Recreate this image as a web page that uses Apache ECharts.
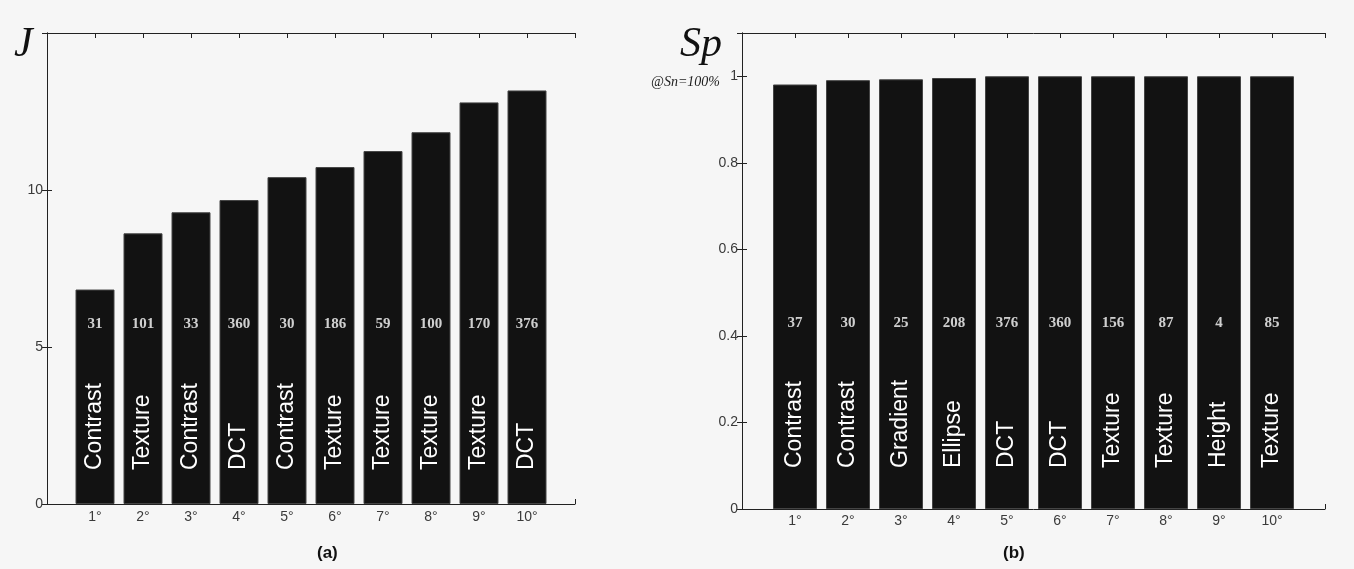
<!DOCTYPE html>
<html>
<head>
<meta charset="utf-8">
<script src="https://cdn.jsdelivr.net/npm/echarts@6/dist/echarts.min.js"></script>
<style>
  html, body { margin: 0; padding: 0; background: #f6f6f6; }
  #main { width: 1354px; height: 569px; }
</style>
</head>
<body>
<div id="main"></div>
<script>
// ranks 1..10 (shared by both panels)
let ranks = [1, 2, 3, 4, 5, 6, 7, 8, 9, 10];

// panel (a): J
let valuesJ = [6.83, 8.62, 9.29, 9.68, 10.41, 10.73, 11.24, 11.84, 12.79, 13.17];
let featuresJ = ['Contrast', 'Texture', 'Contrast', 'DCT', 'Contrast', 'Texture', 'Texture', 'Texture', 'Texture', 'DCT'];
let idsJ = ['31', '101', '33', '360', '30', '186', '59', '100', '170', '376'];

// panel (b): Sp @ Sn=100%
let valuesSp = [0.981, 0.991, 0.993, 0.996, 1.0, 1.0, 1.0, 1.0, 1.0, 1.0];
let featuresSp = ['Contrast', 'Contrast', 'Gradient', 'Ellipse', 'DCT', 'DCT', 'Texture', 'Texture', 'Height', 'Texture'];
let idsSp = ['37', '30', '25', '208', '376', '360', '156', '87', '4', '85'];

// y where the id numbers sit
let idYJ = 5.72;
let idYSp = 0.43;

let axisColor = '#222';
let labelColor = '#3a3a3a';

function rankLabel(v) {
  return (v >= 1 && v <= 10) ? v + '°' : '';
}

function xAxes(grid, margin) {
  return [{
    gridIndex: grid, type: 'value', position: 'bottom', min: 0, max: 11, interval: 1,
    axisLine: {show: true, onZero: false, lineStyle: {color: axisColor}},
    axisTick: {show: true, inside: true, length: 5, lineStyle: {color: axisColor}},
    axisLabel: {formatter: rankLabel, color: labelColor, fontSize: 14, margin: margin, fontFamily: 'Liberation Sans'},
    splitLine: {show: false}
  }, {
    gridIndex: grid, type: 'value', position: 'top', min: 0, max: 11, interval: 1,
    axisLine: {show: true, onZero: false, lineStyle: {color: axisColor}},
    axisTick: {show: true, inside: true, length: 5, lineStyle: {color: axisColor}},
    axisLabel: {show: false},
    splitLine: {show: false}
  }];
}

function yAxes(grid, max, interval, fmt) {
  return [{
    gridIndex: grid, type: 'value', position: 'left', min: 0, max: max, interval: interval,
    axisLine: {show: true, lineStyle: {color: axisColor}},
    axisTick: {show: true, inside: true, length: 5, lineStyle: {color: axisColor}},
    axisLabel: {formatter: fmt, color: labelColor, fontSize: 14, margin: 4, fontFamily: 'Liberation Sans'},
    splitLine: {show: false}
  }, {
    gridIndex: grid, type: 'value', position: 'right', min: 0, max: max, interval: interval,
    axisLine: {show: true, lineStyle: {color: axisColor}},
    axisTick: {show: true, inside: true, length: 5, lineStyle: {color: axisColor}},
    axisLabel: {show: false},
    splitLine: {show: false}
  }];
}

function barSeries(xi, yi, values, names, width, dist) {
  return {
    type: 'bar',
    xAxisIndex: xi,
    yAxisIndex: yi,
    barWidth: width,
    data: ranks.map((r, i) => [r, values[i]]),
    itemStyle: {color: '#121212', borderColor: '#444', borderWidth: 1},
    label: {
      show: true,
      position: 'insideBottom',
      distance: dist,
      rotate: 90,
      align: 'left',
      verticalAlign: 'middle',
      color: '#fff',
      fontSize: 23,
      fontFamily: 'Liberation Sans',
      formatter: p => names[p.dataIndex]
    },
    silent: true
  };
}

function idSeries(xi, yi, y, ids) {
  return {
    type: 'scatter',
    xAxisIndex: xi,
    yAxisIndex: yi,
    symbolSize: 1,
    itemStyle: {color: 'rgba(0,0,0,0)'},
    data: ranks.map(r => [r, y]),
    label: {
      show: true,
      position: 'inside',
      color: '#fff',
      fontSize: 15,
      fontWeight: 'bold',
      fontFamily: 'Liberation Serif',
      formatter: p => ids[p.dataIndex]
    },
    z: 5
  };
}

let myChart = echarts.init(document.getElementById('main'));
myChart.setOption({
  backgroundColor: '#f6f6f6',
  animation: false,
  grid: [
    {left: 47, top: 33, right: 779, bottom: 65},
    {left: 742, top: 33, right: 29, bottom: 60}
  ],
  xAxis: xAxes(0, 6).concat(xAxes(1, 5)),
  yAxis: yAxes(0, 15, 5, v => v >= 15 ? '' : String(v))
    .concat(yAxes(1, 1.1, 0.2, v => v > 1.05 ? '' : String(+v.toFixed(1)))),
  graphic: [
    {type: 'text', left: 14, top: 24, style: {text: 'J', font: 'italic 42px "Liberation Serif"', fill: '#111'}},
    {type: 'text', left: 680, top: 24, style: {text: 'Sp', font: 'italic 42px "Liberation Serif"', fill: '#111'}},
    {type: 'text', left: 651, top: 75, style: {text: '@Sn=100%', font: 'italic 14px "Liberation Serif"', fill: '#222'}},
    {type: 'text', left: 317, top: 545, style: {text: '(a)', font: 'bold 17px "Liberation Sans"', fill: '#111'}},
    {type: 'text', left: 1003, top: 545, style: {text: '(b)', font: 'bold 17px "Liberation Sans"', fill: '#111'}}
  ],
  series: [
    barSeries(0, 0, valuesJ, featuresJ, 39, 34),
    idSeries(0, 0, idYJ, idsJ),
    barSeries(2, 2, valuesSp, featuresSp, 44, 41),
    idSeries(2, 2, idYSp, idsSp)
  ]
});

window.onresize = function() {
  myChart.resize();
};
</script>
</body>
</html>
